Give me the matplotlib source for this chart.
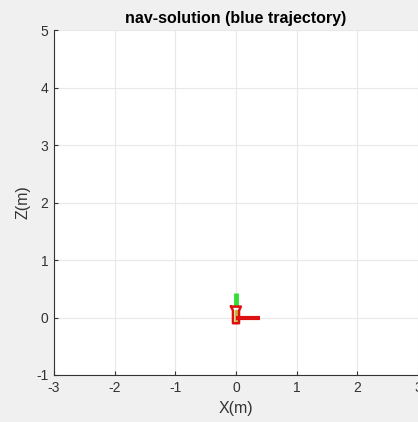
import numpy as np
import matplotlib.pyplot as plt

plt.rcParams['font.family'] = ['Liberation Sans', 'DejaVu Sans']
plt.rcParams['axes.unicode_minus'] = False

# camera body outline (frustum seen from the side)
body_x = [-0.08, 0.08, 0.05, 0.05, -0.05, -0.05, -0.08]
body_z = [0.19, 0.19, 0.12, -0.1, -0.1, 0.12, 0.19]
# axis stubs of the camera frame
x_axis_x = [0.0, 0.4]
x_axis_z = [0.0, 0.0]
z_axis_x = [0.0, 0.0]
z_axis_z = [0.19, 0.42]
inner_x = [0.0, 0.0]
inner_z = [-0.05, 0.12]

xticks = [-3, -2, -1, 0, 1, 2, 3]
zticks = [-1, 0, 1, 2, 3, 4, 5]

fig = plt.figure(figsize=(4.18, 4.22), dpi=100, facecolor='#f0f0f0')
ax = fig.add_axes([54/418, 47/422, 364/418, 345/422])
ax.set_facecolor('white')

ax.plot(z_axis_x, z_axis_z, color='#33dd33', lw=3.5, solid_capstyle='butt')
ax.plot(inner_x, inner_z, color='#bbbb22', lw=2)
ax.plot(body_x, body_z, color='#dd1111', lw=1.8)
ax.plot(x_axis_x, x_axis_z, color='#dd1111', lw=3, solid_capstyle='butt')

ax.set_xlim(-3, 3)
ax.set_ylim(-1, 5)
ax.set_xticks(xticks)
ax.set_yticks(zticks)
ax.grid(True, color='#e8e8e8', lw=0.8)
ax.set_axisbelow(True)
ax.tick_params(direction='in', length=3, labelsize=10, colors='#333333', pad=4)
for s in ['top', 'right']:
    ax.spines[s].set_visible(False)
for s in ['left', 'bottom']:
    ax.spines[s].set_color('#333333')
    ax.spines[s].set_linewidth(0.8)

ax.set_xlabel('X(m)', fontsize=11.5, color='#333333', labelpad=5)
ax.set_ylabel('Z(m)', fontsize=11.5, color='#333333', labelpad=4)
ax.set_title('nav-solution (blue trajectory)', fontsize=11.5, fontweight='bold', pad=5)

fig.savefig('out.png', dpi=100, facecolor=fig.get_facecolor())
